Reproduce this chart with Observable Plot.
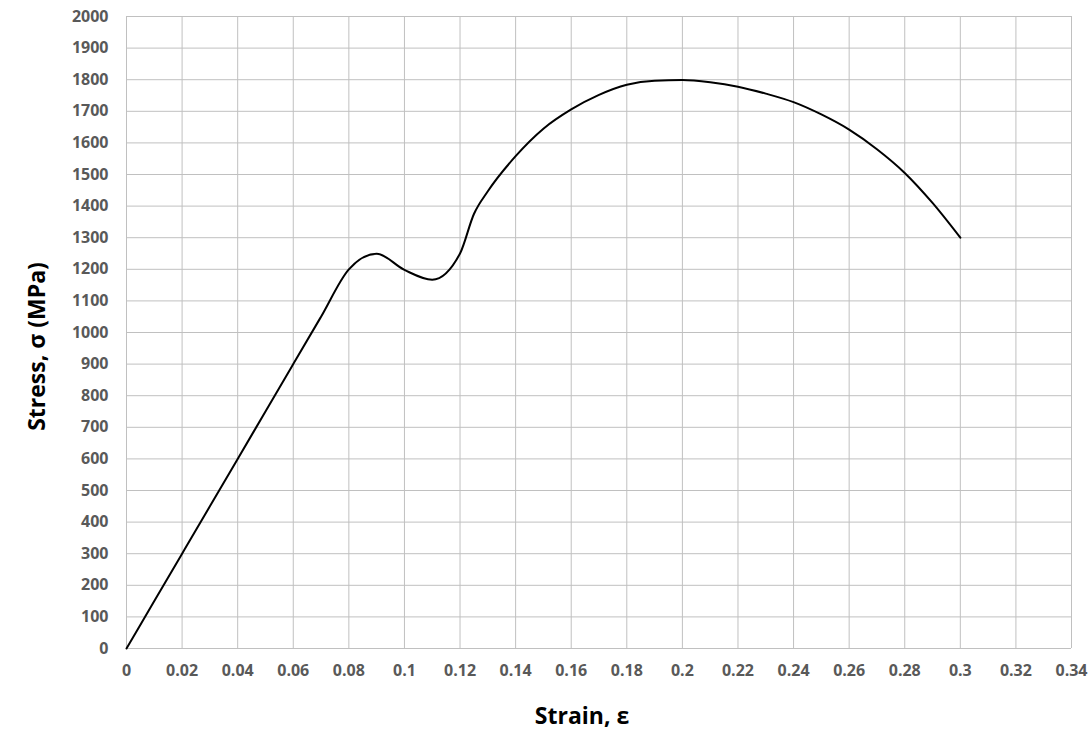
<!DOCTYPE html>
<html><head><meta charset="utf-8">
<script src="https://cdn.jsdelivr.net/npm/d3@7"></script>
<script src="https://cdn.jsdelivr.net/npm/@observablehq/plot@0.6"></script>
<style>body{margin:0;background:#fff} #chart{width:1090px;height:731px}</style>
</head><body><div id="chart"></div>
<script>
// Data
const strain = [0, 0.01, 0.02, 0.03, 0.04, 0.05, 0.06, 0.07, 0.08, 0.09, 0.1, 0.11, 0.12, 0.125, 0.13, 0.14, 0.15, 0.16, 0.17, 0.18, 0.19, 0.2, 0.21, 0.22, 0.23, 0.24, 0.25, 0.26, 0.27, 0.28, 0.29, 0.3];
const stress = [0, 150, 300, 450, 600, 750, 900, 1050, 1200, 1249, 1198, 1167, 1250, 1375, 1447, 1558, 1645, 1706, 1752, 1784, 1797, 1799, 1792, 1778, 1756, 1729, 1690, 1642, 1580, 1505, 1410, 1300];
const xTicks = [0, 0.02, 0.04, 0.06, 0.08, 0.1, 0.12, 0.14, 0.16, 0.18, 0.2, 0.22, 0.24, 0.26, 0.28, 0.3, 0.32, 0.34];
const yTicks = [0, 100, 200, 300, 400, 500, 600, 700, 800, 900, 1000, 1100, 1200, 1300, 1400, 1500, 1600, 1700, 1800, 1900, 2000];
const xTitle = "Strain, ε";
const yTitle = "Stress, σ (MPa)";

const data = strain.map((x, i) => ({x, y: stress[i]}));
const fmt = d => String(+d.toFixed(2));
const font = "'Open Sans', sans-serif";

const chart = Plot.plot({
  width: 1090, height: 731,
  marginLeft: 126, marginRight: 19, marginTop: 16, marginBottom: 83,
  style: {fontFamily: font, background: "#fff"},
  x: {domain: [0, 0.34]},
  y: {domain: [0, 2000]},
  marks: [
    Plot.gridX(xTicks, {stroke: "#c0c0c0", strokeOpacity: 1, strokeWidth: 1}),
    Plot.gridY(yTicks, {stroke: "#c0c0c0", strokeOpacity: 1, strokeWidth: 1}),
    Plot.axisX(xTicks, {tickSize: 0, tickPadding: 16, tickFormat: fmt, fontSize: 16, fontWeight: "bold", fill: "#595959", label: null}),
    Plot.axisY(yTicks, {tickSize: 0, tickPadding: 18, tickFormat: d => String(d), fontSize: 16, fontWeight: "bold", fill: "#595959", label: null}),
    Plot.line(data, {x: "x", y: "y", curve: "monotone-x", stroke: "#000", strokeWidth: 2}),
    Plot.text([xTitle], {frameAnchor: "bottom", textAnchor: "middle", dx: -17, dy: 68, fontSize: 23, fontWeight: "bold", fill: "#000", lineAnchor: "middle"}),
    Plot.text([yTitle], {frameAnchor: "left", textAnchor: "middle", rotate: -90, dx: -89, dy: 14, fontSize: 23, fontWeight: "bold", fill: "#000", lineAnchor: "middle"})
  ]
});
document.getElementById("chart").appendChild(chart);
</script>
</body></html>
